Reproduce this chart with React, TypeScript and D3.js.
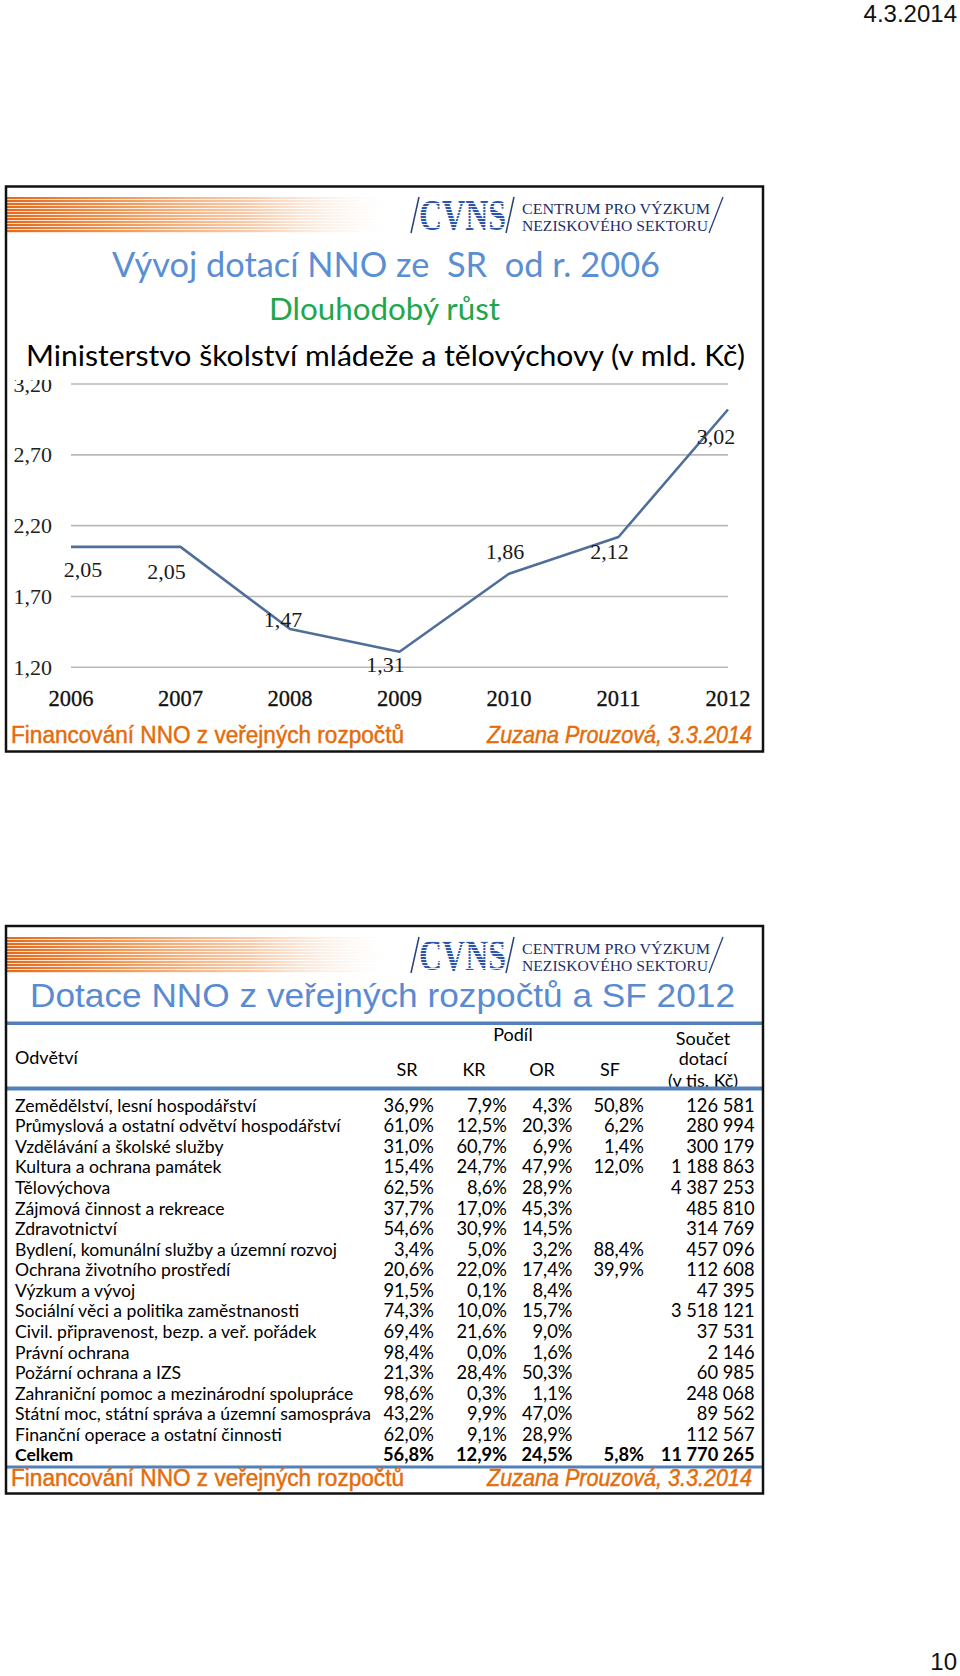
import React from 'react';
import * as d3 from 'd3';

// ---------- Slide 1 data ----------
const years = ['2006', '2007', '2008', '2009', '2010', '2011', '2012'];
const subsidies = [2.05, 2.05, 1.47, 1.31, 1.86, 2.12, 3.02];
const yTicks = [1.2, 1.7, 2.2, 2.7, 3.2];

// ---------- Slide 2 data ----------
const sectors = [
  'Zemědělství, lesní hospodářství',
  'Průmyslová a ostatní odvětví hospodářství',
  'Vzdělávání a školské služby',
  'Kultura a ochrana památek',
  'Tělovýchova',
  'Zájmová činnost a rekreace',
  'Zdravotnictví',
  'Bydlení, komunální služby a územní rozvoj',
  'Ochrana životního prostředí',
  'Výzkum a vývoj',
  'Sociální věci a politika zaměstnanosti',
  'Civil. připravenost, bezp. a veř. pořádek',
  'Právní ochrana',
  'Požární ochrana a IZS',
  'Zahraniční pomoc a mezinárodní spolupráce',
  'Státní moc, státní správa a územní samospráva',
  'Finanční operace a ostatní činnosti',
];
const shareSR = [36.9, 61.0, 31.0, 15.4, 62.5, 37.7, 54.6, 3.4, 20.6, 91.5, 74.3, 69.4, 98.4, 21.3, 98.6, 43.2, 62.0];
const shareKR = [7.9, 12.5, 60.7, 24.7, 8.6, 17.0, 30.9, 5.0, 22.0, 0.1, 10.0, 21.6, 0.0, 28.4, 0.3, 9.9, 9.1];
const shareOR = [4.3, 20.3, 6.9, 47.9, 28.9, 45.3, 14.5, 3.2, 17.4, 8.4, 15.7, 9.0, 1.6, 50.3, 1.1, 47.0, 28.9];
const shareSF: (number | null)[] = [50.8, 6.2, 1.4, 12.0, null, null, null, 88.4, 39.9, null, null, null, null, null, null, null, null];
const totals = [126581, 280994, 300179, 1188863, 4387253, 485810, 314769, 457096, 112608, 47395, 3518121, 37531, 2146, 60985, 248068, 89562, 112567];
const totalLabel = 'Celkem';
const totalShares = [56.8, 12.9, 24.5, 5.8];
const grandTotal = 11770265;
const colHeaders = ['SR', 'KR', 'OR', 'SF'];

// ---------- styles ----------
const CAL = "Lato, 'Noto Sans', sans-serif";
const ARIAL = "'Liberation Sans', Arial, sans-serif";
const NARROW = "'Liberation Sans Narrow', 'Liberation Sans', Arial, sans-serif";
const SERIF = "'Liberation Serif', 'DejaVu Serif', serif";
const ORANGE = '#E46C0A';
const RULE = '#5380B8';

// label offsets relative to points (style)
const labelOffsets: [number, number][] = [
  [12, 30], [-14, 32], [-7, -2], [-14, 20], [-4, -15], [-9, 22], [-12, 35],
];

const fmtPct = (v: number) => v.toFixed(1).replace('.', ',') + '%';
const fmtNum = (v: number) => d3.format(',')(v).replace(/,/g, ' ');
const fmtTick = (v: number) => v.toFixed(2).replace('.', ',');

function Stripes({ y }: { y: number }) {
  const n = 12;
  return (
    <g>
      {d3.range(n).map((i) => (
        <rect key={i} x={7} y={y + i * 3} width={378} height={2.2} fill="url(#stripeGrad)" />
      ))}
    </g>
  );
}

function Logo({ y }: { y: number }) {
  return (
    <g>
      <line x1={419} y1={y} x2={411} y2={y + 36} stroke="#2b3f7a" strokeWidth={1.5} />
      <text x={419} y={y + 33} fontFamily={SERIF} fontWeight="bold" fontSize={44}
        textLength={87} lengthAdjust="spacingAndGlyphs" fill="url(#cvnsPat)">CVNS</text>
      <line x1={514} y1={y} x2={506} y2={y + 36} stroke="#2b3f7a" strokeWidth={1.5} />
      <text x={522} y={y + 16.5} fontFamily={SERIF} fontSize={15.2} fill="#1d2f66"
        textLength={188} lengthAdjust="spacingAndGlyphs">CENTRUM PRO VÝZKUM</text>
      <text x={522} y={y + 34} fontFamily={SERIF} fontSize={15.2} fill="#1d2f66"
        textLength={186} lengthAdjust="spacingAndGlyphs">NEZISKOVÉHO SEKTORU</text>
      <line x1={723} y1={y} x2={709} y2={y + 36} stroke="#2b3f7a" strokeWidth={1.3} />
    </g>
  );
}

function Footer({ baseline }: { baseline: number }) {
  return (
    <g fill={ORANGE} stroke={ORANGE} strokeWidth={0.45} fontFamily={NARROW} fontSize={23}>
      <text x={11} y={baseline} textLength={393} lengthAdjust="spacingAndGlyphs">Financování NNO z veřejných rozpočtů</text>
      <text x={487} y={baseline} fontStyle="italic" textLength={265} lengthAdjust="spacingAndGlyphs">Zuzana Prouzová, 3.3.2014</text>
    </g>
  );
}

export default function App() {
  const x = d3.scalePoint<string>().domain(years).range([71, 728]);
  const y = d3.scaleLinear().domain([1.2, 3.2]).range([667.3, 384]);
  const line = d3.line<number>()
    .x((_, i) => x(years[i]) as number)
    .y((d) => y(d));

  const T2 = 926;
  const rowY0 = 1105.5;
  const rowStep = 20.56;
  const colRight = [434, 507, 572.5, 644];
  const colHeadX = [407, 474, 542, 610];
  const sumRight = 754.5;
  const rowY = (i: number) => rowY0 + i * rowStep + 6.3;

  return (
    <svg width={960} height={1676} viewBox="0 0 960 1676"
      style={{ position: 'absolute', left: 0, top: 0, display: 'block', background: '#fff' }}>
      <defs>
        <linearGradient id="stripeGrad" x1="0" x2="1" y1="0" y2="0">
          <stop offset="0" stopColor="#E5691A" stopOpacity={1} />
          <stop offset="0.3" stopColor="#EE9552" stopOpacity={0.95} />
          <stop offset="0.65" stopColor="#F4BC92" stopOpacity={0.75} />
          <stop offset="1" stopColor="#FBE6D6" stopOpacity={0} />
        </linearGradient>
        <pattern id="cvnsPat" patternUnits="userSpaceOnUse" width={4} height={3}>
          <rect x={0} y={0} width={4} height={3} fill="#ffffff" />
          <rect x={0} y={0} width={4} height={2.1} fill="#2C55A8" />
        </pattern>
      </defs>

      <rect x={0} y={0} width={960} height={1676} fill="#fff" />

      <text x={957} y={22} textAnchor="end" fontFamily={ARIAL} fontSize={24} fill="#111">4.3.2014</text>

      {/* ================= Slide 1 ================= */}
      <g>
        {yTicks.map((t) => (
          <line key={t} x1={71} x2={728} y1={y(t)} y2={y(t)} stroke="#b9b9b9" strokeWidth={1.6} />
        ))}
        {yTicks.map((t) => (
          <text key={'l' + t} x={52} y={y(t) + 7.5} textAnchor="end" fontFamily={SERIF} fontSize={22} fill="#222">{fmtTick(t)}</text>
        ))}
        {years.map((yr) => (
          <text key={yr} x={x(yr)} y={706} textAnchor="middle" fontFamily={SERIF} fontSize={22.5} fill="#111"
            stroke="#111" strokeWidth={0.3}>{yr}</text>
        ))}
        <path d={line(subsidies) as string} fill="none" stroke="#4F6F99" strokeWidth={2.6} strokeLinejoin="round" />
        {subsidies.map((v, i) => (
          <text key={'d' + i} x={(x(years[i]) as number) + labelOffsets[i][0]} y={y(v) + labelOffsets[i][1]}
            textAnchor="middle" fontFamily={SERIF} fontSize={22} fill="#1a1a1a">{fmtTick(v)}</text>
        ))}

        <rect x={8} y={236} width={753} height={144} fill="#fff" />

        <Stripes y={197} />
        <Logo y={197} />

        <text x={112} y={277} fontFamily={CAL} fontSize={34} fill="#5A8FD4" style={{ whiteSpace: 'pre' }}
          textLength={548} lengthAdjust="spacingAndGlyphs">{'Vývoj dotací NNO ze  SR  od r. 2006'}</text>
        <text x={269} y={320} fontFamily={CAL} fontSize={30} fill="#20A64B"
          textLength={231} lengthAdjust="spacingAndGlyphs">Dlouhodobý růst</text>
        <text x={26} y={366} fontFamily={CAL} fontSize={29} fill="#000"
          textLength={719} lengthAdjust="spacingAndGlyphs">Ministerstvo školství mládeže a tělovýchovy (v mld. Kč)</text>

        <Footer baseline={743} />
        <rect x={6} y={186.5} width={757} height={565} fill="none" stroke="#111" strokeWidth={2.5} />
      </g>

      {/* ================= Slide 2 ================= */}
      <g>
        <Stripes y={T2 + 11} />
        <Logo y={T2 + 11} />
        <text x={30} y={1007} fontFamily={ARIAL} fontSize={33} fill="#5A8BD0"
          textLength={705} lengthAdjust="spacingAndGlyphs">Dotace NNO z veřejných rozpočtů a SF 2012</text>
        <rect x={7} y={1021.5} width={755} height={3.5} fill={RULE} />

        <g fontFamily={CAL} fontSize={18} fill="#000">
          <text x={15} y={1064}>Odvětví</text>
          <text x={513} y={1041} textAnchor="middle">Podíl</text>
          {colHeaders.map((h, j) => (
            <text key={h} x={colHeadX[j]} y={1076} textAnchor="middle">{h}</text>
          ))}
          <text x={703} y={1045} textAnchor="middle">Součet</text>
          <text x={703} y={1065} textAnchor="middle">dotací</text>
          <text x={703} y={1087} textAnchor="middle">(v tis. Kč)</text>
        </g>
        <rect x={7} y={1086.5} width={755} height={4} fill={RULE} />

        <g fontFamily={CAL} fontSize={18.3} fill="#000">
          {sectors.map((s, i) => {
            const vals = [shareSR[i], shareKR[i], shareOR[i], shareSF[i]];
            return (
              <g key={s}>
                <text x={15} y={rowY(i)} fontSize={17.6}>{s}</text>
                {vals.map((v, j) => v == null ? null : (
                  <text key={j} x={colRight[j]} y={rowY(i)} textAnchor="end">{fmtPct(v)}</text>
                ))}
                <text x={sumRight} y={rowY(i)} textAnchor="end">{fmtNum(totals[i])}</text>
              </g>
            );
          })}
          <g fontWeight="bold">
            <text x={15} y={rowY(sectors.length)} fontSize={17.6}>{totalLabel}</text>
            {totalShares.map((v, j) => (
              <text key={j} x={colRight[j]} y={rowY(sectors.length)} textAnchor="end">{fmtPct(v)}</text>
            ))}
            <text x={sumRight} y={rowY(sectors.length)} textAnchor="end">{fmtNum(grandTotal)}</text>
          </g>
        </g>
        <rect x={7} y={1465.5} width={755} height={3} fill={RULE} />

        <Footer baseline={1486} />
        <rect x={6} y={926} width={757} height={567.5} fill="none" stroke="#111" strokeWidth={2.5} />
      </g>

      <text x={957} y={1670} textAnchor="end" fontFamily={ARIAL} fontSize={24} fill="#111">10</text>
    </svg>
  );
}
